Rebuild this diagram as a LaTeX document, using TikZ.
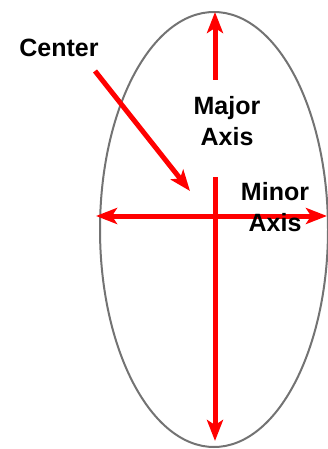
\documentclass[tikz,border=0pt]{standalone}
\usepackage{fontspec}
\setmainfont{Liberation Sans}
\usetikzlibrary{positioning,arrows.meta}
\definecolor{AxisRed}{RGB}{255,0,0}
\definecolor{RimGray}{RGB}{115,115,115}

\begin{document}
\begin{tikzpicture}[x=1pt, y=-1pt,
    every node/.style={font=\fontsize{25}{31}\selectfont\bfseries, align=center, inner sep=0pt},
    >={Stealth[length=21pt,width=16pt,inset=5pt]},
    axis/.style={AxisRed, line width=5pt}]
  \useasboundingbox (0,0) rectangle (327,449);
  \draw[RimGray, line width=2pt] (214,229.5) ellipse [x radius=114, y radius=217.5];
  % ends of the arrows
  \coordinate (top) at (215,12);
  \coordinate (majtail) at (215,80);
  \coordinate (bottail) at (215,177);
  \coordinate (bot) at (215,441);
  \coordinate (lft) at (96,216);
  \coordinate (rgt) at (327,216);
  \coordinate (ctrtail) at (95,71);
  \coordinate (ctrtip) at (190,191);
  \draw[axis,->] (majtail) -- (top);
  \draw[axis,->] (bottail) -- (bot);
  \draw[axis,<->] (lft) -- (rgt);
  \draw[axis,->] (ctrtail) -- (ctrtip);
  % labels
  \node[anchor=north] (ctr) at (59,39) {Center};
  \node[anchor=north] (maj) at (227,96) {Major\\Axis};
  \node[anchor=north] (minr) at (275,182) {Minor\\Axis};
\end{tikzpicture}
\end{document}
